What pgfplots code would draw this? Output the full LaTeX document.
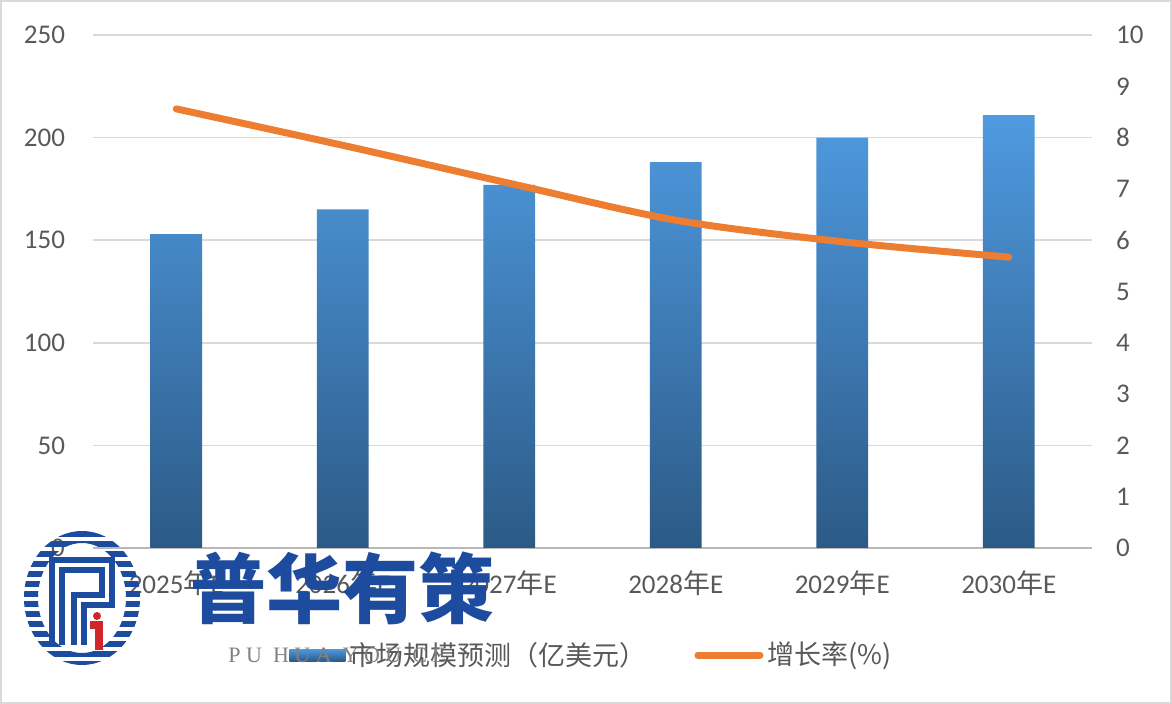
\documentclass[border=0pt]{standalone}
\usepackage{fontspec}
\setmainfont{Carlito}
\newfontfamily\cjk{Noto Sans CJK SC}
\newfontfamily\serifw{Liberation Serif}
\usepackage{pgfplots}
\pgfplotsset{compat=1.18}
\definecolor{barTop}{HTML}{4F9AE0}
\definecolor{barBot}{HTML}{2C5A86}
\definecolor{lineOr}{HTML}{ED7D31}
\definecolor{gridc}{HTML}{D9D9D9}
\definecolor{tickc}{HTML}{595959}
\definecolor{logob}{HTML}{1D4C9F}
\definecolor{logor}{HTML}{D0262A}

\begin{document}
\begin{tikzpicture}
\pgfplotsset{
  every axis/.append style={
    scale only axis, width=499.5pt, height=256.5pt,
    xmin=-0.5, xmax=5.5,
    major tick length=0pt,
    /pgf/number format/assume math mode=true,
    tick label style={font=\fontsize{13.5}{16}\selectfont, text=tickc},
  },
}
% market size (bars, left axis)
\begin{axis}[
  name=ax,
  ymin=0, ymax=250,
  axis x line*=bottom, axis y line*=left,
  y axis line style={draw=none},
  x axis line style={draw=gridc!85!black, line width=0.75pt, -},
  ytick={0,50,...,250},
  xtick={0,...,5},
  xticklabels={{2025{\cjk 年}E},{2026{\cjk 年}E},{2027{\cjk 年}E},{2028{\cjk 年}E},{2029{\cjk 年}E},{2030{\cjk 年}E}},
  ymajorgrids, grid style={draw=gridc, line width=0.75pt},
  yticklabel style={xshift=-10.5pt},
  xticklabel style={yshift=-8pt},
]
\addplot[ybar, bar width=0.312, draw=none, top color=barTop, bottom color=barBot]
  coordinates {(0,153) (1,165) (2,177) (3,188) (4,200) (5,211)};
\end{axis}
% growth rate (line, right axis)
\begin{axis}[
  ymin=0, ymax=10,
  axis y line*=right, axis x line=none,
  y axis line style={draw=none},
  ytick={0,1,...,10},
  yticklabel style={xshift=8.5pt},
  legend style={at={(0.5,-0.2086)}, anchor=center, draw=none, fill=none,
    font=\fontsize{13.5}{16}\selectfont\cjk, text=tickc,
    /tikz/every even column/.append style={column sep=22pt}},
  legend columns=2,
  legend cell align=left,
]
\addlegendimage{legend image code/.code={\shade[draw=none, top color=barTop, bottom color=barBot] (0pt,-3pt) rectangle (28pt,3pt);}}
\addlegendentry{市场规模预测（亿美元）}
\addplot[lineOr, line width=3.5pt, smooth, line cap=round,
  legend image code/.code={\draw[lineOr, line width=3.5pt] (0pt,0pt) -- (31pt,0pt);}]
  coordinates {(0,8.56) (1,7.85) (2,7.11) (3,6.39) (4,5.97) (5,5.67)};
\addlegendentry{增长率(\%)}
\end{axis}
% watermark and frame, in pixel units of the image
\path (ax.south west) ++(-46.5pt,274pt) coordinate (img);
\begin{scope}[shift={(img)}, x=0.5pt, y=-0.5pt]
  \draw[gridc, line width=1pt] (1,1) rectangle (1171,703);
  \begin{scope}[even odd rule]
    \clip (82,598) ellipse [x radius=58, y radius=67]
          (82,598) ellipse [x radius=44, y radius=55];
    \foreach \k in {0,...,13} \fill[logob] (0,531+\k*10) rectangle (170,537+\k*10);
  \end{scope}
  \draw[logob, line width=3pt] (52,645) -- (52,560) -- (112,560) -- (112,605) -- (84,605) -- (84,645);
  \draw[logob, line width=3pt] (62,645) -- (62,570) -- (102,570) -- (102,595) -- (74,595) -- (74,645);
  \fill[logor] (97,616) circle [radius=4];
  \draw[logor, line width=4pt] (90,625) -- (99,625) -- (99,650);
  \node[logob, font=\cjk\bfseries\fontsize{38}{40}\selectfont, inner sep=0pt] at (342,588) {普华有策};
  \node[gray, font=\serifw\fontsize{11}{12}\selectfont, anchor=west, inner sep=0pt] at (228,655) {P U\ \ H U A\ \ Y O U\ \ C E};
\end{scope}
\end{tikzpicture}
\end{document}
